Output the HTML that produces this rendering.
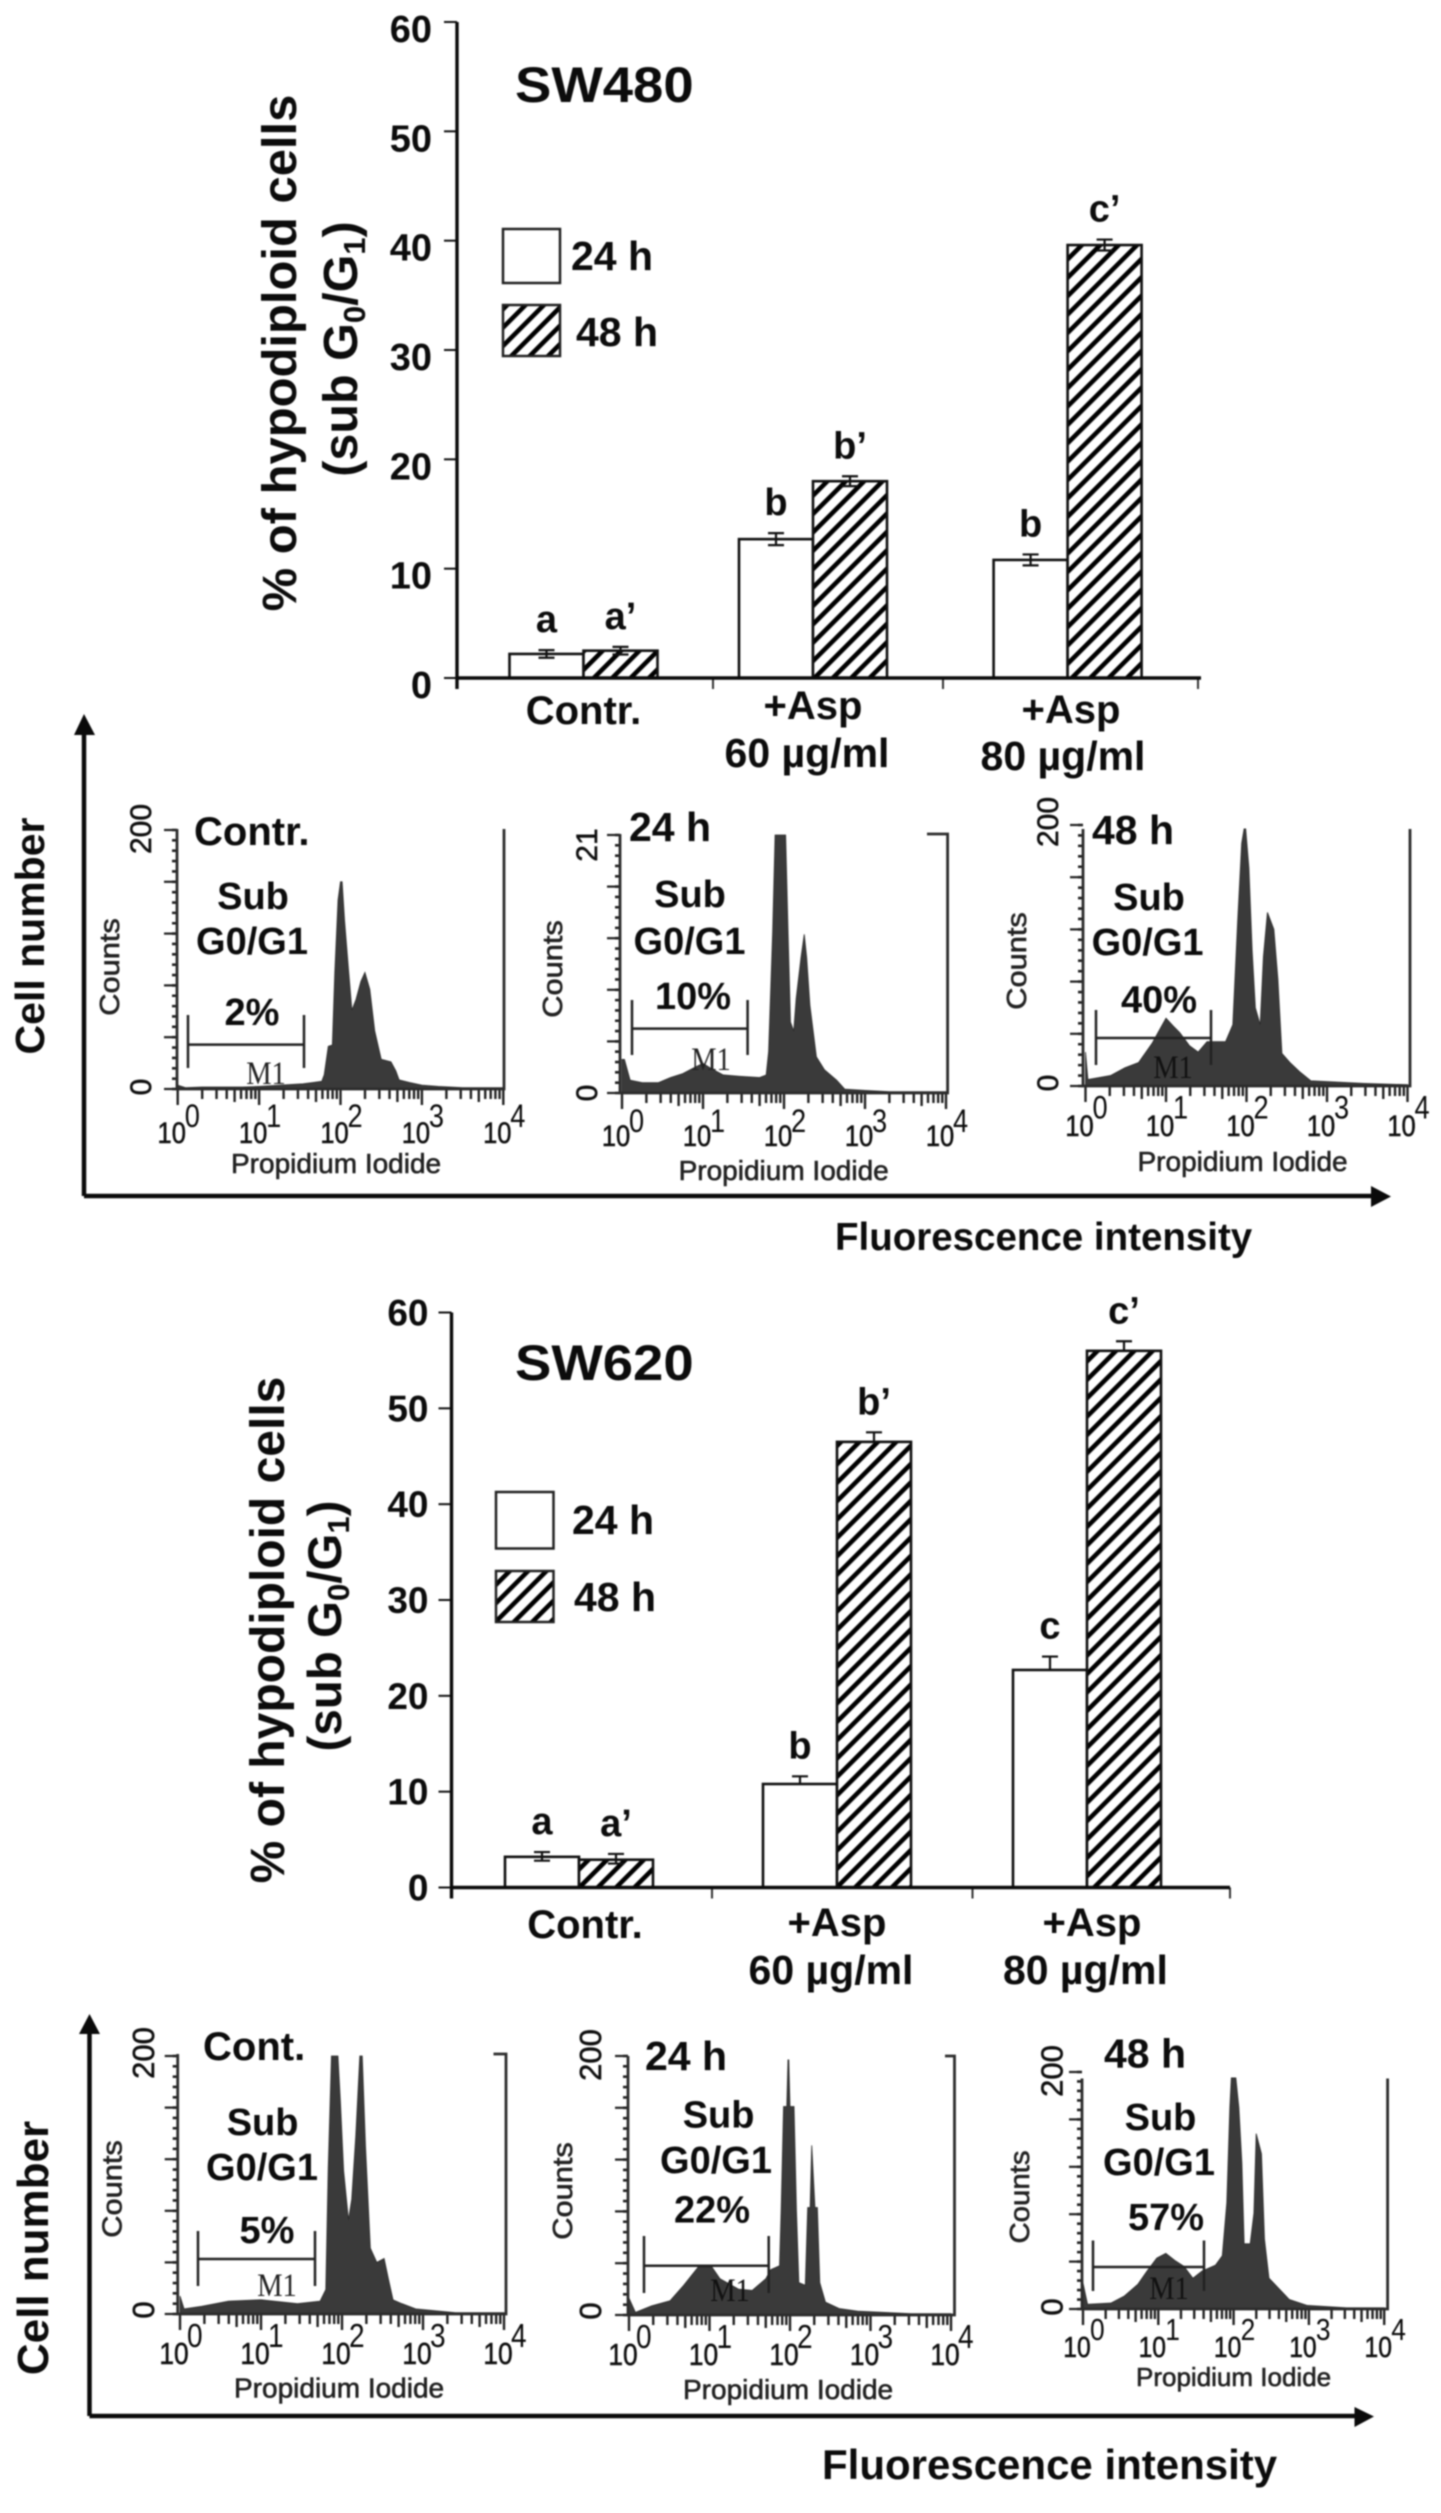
<!DOCTYPE html>
<html lang="en">
<head>
<meta charset="utf-8">
<title>Hypodiploid cells in SW480 and SW620</title>
<style>
html,body{margin:0;padding:0;background:#fff;width:1441px;height:2513px;overflow:hidden}
svg{display:block;filter:blur(0.8px)}
text{font-family:"Liberation Sans",Arial,sans-serif;fill:#0c0c0c}
.b{font-weight:bold}
.s38{font-size:38px;font-weight:bold}
.s40{font-size:40px;font-weight:bold}
.s41{font-size:41px;font-weight:bold}
.m{text-anchor:middle}
.prop{font-size:28px;fill:#222;stroke:#222;stroke-width:.6px}
.cnt{font-size:28px;fill:#222;stroke:#222;stroke-width:.6px}
.num{stroke:#222;stroke-width:.6px}
.serif{font-family:"Liberation Serif",serif;font-size:30px;fill:#222}
</style>
</head>
<body>
<svg xmlns="http://www.w3.org/2000/svg" width="1441" height="2513" viewBox="0 0 1441 2513">
<defs>
<pattern id="hatch" width="13" height="13" patternUnits="userSpaceOnUse" patternTransform="rotate(45)">
<rect width="13" height="13" fill="#fff"/>
<rect width="4.6" height="13" fill="#000"/>
</pattern>
</defs>
<rect width="1441" height="2513" fill="#fff"/>

<g id="flow-layer"></g>
<g id="bar-layer-a"></g>
<g id="bar-layer-b"></g>

<!-- SW480 static text -->
<text class="b" font-size="50" transform="translate(515,102) scale(1.09,1)">SW480</text>
<text class="b m" font-size="48" transform="translate(296,353) rotate(-90) scale(1.02,1)">% of hypodiploid cells</text>
<text class="b m" font-size="48.500" transform="translate(357,349) rotate(-90)">(sub G<tspan font-size="31" dy="8">0</tspan><tspan dy="-8">/G</tspan><tspan font-size="31" dy="8">1</tspan><tspan dy="-8">)</tspan></text>
<rect x="503" y="229" width="57" height="54" fill="#fff" stroke="#222" stroke-width="2.5"/>
<rect x="503" y="305" width="57" height="51" fill="url(#hatch)" stroke="#222" stroke-width="2.5"/>
<text class="s41" x="571" y="270">24 h</text>
<text class="s41" x="576" y="346">48 h</text>
<text class="s40 m" x="583.5" y="724">Contr.</text>
<text class="s40 m" x="813" y="719">+Asp</text>
<text class="s41 m" x="807" y="767">60 µg/ml</text>
<text class="s40 m" x="1071" y="723">+Asp</text>
<text class="s41 m" x="1063" y="770">80 µg/ml</text>

<!-- SW480 flow panels text -->
<text class="b" font-size="41" transform="translate(44,936) rotate(-90)" text-anchor="middle">Cell number</text>
<text class="b" font-size="38.5" x="835" y="1250">Fluorescence intensity</text>

<text class="s40" x="194" y="845">Contr.</text>
<text class="s38 m" x="253" y="909">Sub</text>
<text class="s38 m" x="252" y="954">G0/G1</text>
<text class="s38 m" x="252" y="1025">2%</text>
<path d="M188 1015V1068M304 1015V1068M188 1044.6H304" stroke="#222" stroke-width="2.5" fill="none"/>
<text class="serif m" transform="translate(266,1084) scale(.95,1.1)">M1</text>
<text class="prop" x="231" y="1173">Propidium Iodide</text>
<text class="cnt m" transform="translate(119,967) rotate(-90) scale(1.1,1)">Counts</text>
<text class="m num" font-size="30" fill="#222" transform="translate(151,829) rotate(-90)">200</text>
<text class="m num" font-size="30" fill="#222" transform="translate(151,1087) rotate(-90)">0</text>

<text class="s41" x="629" y="841">24 h</text>
<text class="s38 m" x="690" y="907">Sub</text>
<text class="s38 m" x="689.5" y="954">G0/G1</text>
<text class="s38 m" x="693" y="1009">10%</text>
<path d="M632 1000V1055M747.600 1000V1055M632 1028.600H747.600" stroke="#222" stroke-width="2.5" fill="none"/>
<text class="serif m" transform="translate(711,1070) scale(.95,1.1)">M1</text>
<text class="prop" x="678.600" y="1180">Propidium Iodide</text>
<text class="cnt m" transform="translate(562,969) rotate(-90) scale(1.1,1)">Counts</text>
<text class="m num" font-size="30" fill="#222" transform="translate(597,845) rotate(-90)">21</text>
<text class="m num" font-size="30" fill="#222" transform="translate(597,1093) rotate(-90)">0</text>

<text class="s41" x="1092" y="844">48 h</text>
<text class="s38 m" x="1149" y="910">Sub</text>
<text class="s38 m" x="1147.600" y="955">G0/G1</text>
<text class="s38 m" x="1159" y="1012.500">40%</text>
<path d="M1096 1010V1065M1211 1010V1065M1096 1038H1211" stroke="#222" stroke-width="2.5" fill="none"/>
<text class="serif m" transform="translate(1173,1078) scale(.95,1.1)" style="fill:#111">M1</text>
<text class="prop" x="1137.500" y="1171">Propidium Iodide</text>
<text class="cnt m" transform="translate(1026,961) rotate(-90) scale(1.1,1)">Counts</text>
<text class="m num" font-size="30" fill="#222" transform="translate(1058,822) rotate(-90)">200</text>
<text class="m num" font-size="30" fill="#222" transform="translate(1058,1083) rotate(-90)">0</text>

<!-- big arrows top -->
<path d="M84 1196V730M84 1196H1376" stroke="#0a0a0a" stroke-width="4.500" fill="none"/>
<path d="M84 714L95 735H74Z" fill="#0a0a0a"/>
<path d="M1391 1196.500L1371 1186V1207Z" fill="#0a0a0a"/>

<!-- SW620 static text -->
<text class="b" font-size="50" transform="translate(515,1380) scale(1.09,1)">SW620</text>
<text class="b m" font-size="48" transform="translate(284,1630) rotate(-90)">% of hypodiploid cells</text>
<text class="b m" font-size="47.500" transform="translate(341,1626) rotate(-90)">(sub G<tspan font-size="31" dy="8">0</tspan><tspan dy="-8">/G</tspan><tspan font-size="31" dy="8">1</tspan><tspan dy="-8">)</tspan></text>
<rect x="496" y="1492" width="57.500" height="56.500" fill="#fff" stroke="#222" stroke-width="2.500"/>
<rect x="496" y="1571" width="57.500" height="51" fill="url(#hatch)" stroke="#222" stroke-width="2.500"/>
<text class="s41" x="572" y="1534">24 h</text>
<text class="s41" x="574" y="1611">48 h</text>
<text class="s40 m" x="585" y="1938">Contr.</text>
<text class="s40 m" x="837" y="1936">+Asp</text>
<text class="s41 m" x="831" y="1984">60 µg/ml</text>
<text class="s40 m" x="1092" y="1936">+Asp</text>
<text class="s41 m" x="1085.400" y="1984">80 µg/ml</text>

<!-- SW620 flow panels text -->
<text class="b m" font-size="44" transform="translate(48,2248) rotate(-90)">Cell number</text>
<text class="b" font-size="42" x="822" y="2479">Fluorescence intensity</text>

<text class="s40" x="203" y="2060">Cont.</text>
<text class="s38 m" x="262.600" y="2135">Sub</text>
<text class="s38 m" x="262" y="2180">G0/G1</text>
<text class="s38 m" x="267" y="2243">5%</text>
<path d="M198 2231V2286M315 2231V2286M198 2259H315" stroke="#222" stroke-width="2.5" fill="none"/>
<text class="serif m" transform="translate(277,2296) scale(.95,1.1)">M1</text>
<text class="prop" x="234" y="2397.600">Propidium Iodide</text>
<text class="cnt m" transform="translate(121.700,2189) rotate(-90) scale(1.1,1)">Counts</text>
<text class="m num" font-size="31" fill="#222" transform="translate(154,2053) rotate(-90)">200</text>
<text class="m num" font-size="31" fill="#222" transform="translate(154,2310) rotate(-90)">0</text>

<text class="s41" x="645" y="2070">24 h</text>
<text class="s38 m" x="718.600" y="2127.600">Sub</text>
<text class="s38 m" x="716" y="2173">G0/G1</text>
<text class="s38 m" x="712" y="2222.500">22%</text>
<path d="M644 2236V2293M768.700 2236V2293M644 2265.700H768.700" stroke="#222" stroke-width="2.5" fill="none"/>
<text class="serif m" transform="translate(730,2301) scale(.95,1.1)" style="fill:#111">M1</text>
<text class="prop" x="683" y="2399">Propidium Iodide</text>
<text class="cnt m" transform="translate(572,2191) rotate(-90) scale(1.1,1)">Counts</text>
<text class="m num" font-size="31" fill="#222" transform="translate(601,2055) rotate(-90)">200</text>
<text class="m num" font-size="31" fill="#222" transform="translate(601,2311) rotate(-90)">0</text>

<text class="s41" x="1104" y="2067.700">48 h</text>
<text class="s38 m" x="1160.500" y="2130">Sub</text>
<text class="s38 m" x="1159" y="2175">G0/G1</text>
<text class="s38 m" x="1166" y="2230">57%</text>
<path d="M1093 2240.500V2291M1204 2240.500V2291M1093 2267H1204" stroke="#222" stroke-width="2.5" fill="none"/>
<text class="serif m" transform="translate(1169,2299) scale(.95,1.1)" style="fill:#111">M1</text>
<text class="prop" style="font-size:26px" x="1136" y="2386">Propidium Iodide</text>
<text class="cnt m" transform="translate(1029,2197) rotate(-90) scale(1.05,1)">Counts</text>
<text class="m num" font-size="31" fill="#222" transform="translate(1062.500,2071) rotate(-90)">200</text>
<text class="m num" font-size="31" fill="#222" transform="translate(1062.500,2307) rotate(-90)">0</text>

<!-- big arrows bottom -->
<path d="M89.500 2416V2030M89.500 2416H1358" stroke="#0a0a0a" stroke-width="4.500" fill="none"/>
<path d="M89.500 2014L100 2034H79Z" fill="#0a0a0a"/>
<path d="M1374 2416.500L1354.500 2407V2427Z" fill="#0a0a0a"/>

<script>
// ----- SW480 bar chart values -----
var sw480Values24 = [2.2, 12.7, 10.8];
var sw480Values48 = [2.5, 18.0, 39.6];
var sw480ErrUp24 = [0.35, 0.55, 0.5];
var sw480ErrUp48 = [0.35, 0.45, 0.5];
var sw480ErrDown24 = [0.35, 0.55, 0.5];
var sw480ErrDown48 = [0.35, 0.45, 0.5];
var sw480Letters24 = ["a", "b", "b"];
var sw480Letters48 = ["a\u2019", "b\u2019", "c\u2019"];
var sw480TickLabels = [0, 10, 20, 30, 40, 50, 60];

// ----- SW620 bar chart values -----
var sw620Values24 = [3.2, 10.8, 22.7];
var sw620Values48 = [2.9, 46.5, 56.0];
var sw620ErrUp24 = [0.5, 0.8, 1.4];
var sw620ErrUp48 = [0.6, 1.0, 1.0];
var sw620ErrDown24 = [0.4, 0, 0];
var sw620ErrDown48 = [0.4, 0, 0];
var sw620Letters24 = ["a", "b", "c"];
var sw620Letters48 = ["a\u2019", "b\u2019", "c\u2019"];
var sw620TickLabels = [0, 10, 20, 30, 40, 50, 60];

// ----- Flow cytometry histograms: log10 intensity and counts at each outline point -----
var flowDecades = ["0", "1", "2", "3", "4"];
var flowMajorCounts = [0, 40, 80, 120, 160, 200];

var sw480ControlLogs = [0,.1,.3,.8,1,1.54,1.66,1.77,1.8,1.85,1.9,1.93,1.97,2,2.02,2.05,2.1,2.14,2.19,2.25,2.3,2.36,2.42,2.5,2.62,2.68,2.72,2.85,3,3.2,3.5,4];
var sw480ControlCounts = [3,1,1.5,1.5,2,4,5,6,11,33,34,90,146,160,160,130,91,61,69,83,90,77,45,23,21,14,7,5,3,2,1,1];

var sw480H24Logs = [0,.03,.1,.25,.45,.6,.75,.9,1,1.1,1.25,1.45,1.7,1.78,1.81,1.86,1.89,2.02,2.05,2.08,2.12,2.15,2.21,2.25,2.28,2.32,2.4,2.5,2.65,2.75,3,3.3,4];
var sw480H24Counts = [26,26,10,8,8,12,15,20,23,19,14,13,12,14,32,125,200,200,125,55,48,73,105,123,105,68,28,18,10,3,2,1,1];

var sw480H48Logs = [0,.03,.31,.49,.66,.83,.91,1,1.09,1.17,1.29,1.4,1.51,1.74,1.83,1.89,1.94,1.97,1.99,2.03,2.07,2.11,2.17,2.21,2.26,2.34,2.39,2.44,2.54,2.66,2.8,3.46,4];
var sw480H48Counts = [26,5,8,14,18,33,42,52,46,41,31,26,34,34,47,126,186,197,197,167,104,60,47,99,133,120,82,25,18,11,4,2,1];

var sw620ControlLogs = [0,.05,.27,.6,1,1.45,1.73,1.8,1.83,1.87,1.95,1.98,2.02,2.08,2.12,2.17,2.22,2.25,2.29,2.35,2.43,2.52,2.57,2.63,2.74,2.91,3.4,4];
var sw620ControlCounts = [14,4,6,10,11,8,10,19,113,200,200,165,111,73,89,138,200,200,130,51,40,43,28,11,8,4,1,1];

var sw620H24Logs = [0,.08,.28,.51,.68,.86,1.03,1.13,1.36,1.53,1.7,1.76,1.87,1.89,1.92,1.96,1.975,1.985,2.0,2.05,2.08,2.11,2.19,2.22,2.25,2.27,2.31,2.34,2.37,2.44,2.61,2.84,3.5,4];
var sw620H24Counts = [13,2,7,11,23,37,37,28,20,19,28,35,38,81,161,161,197,197,161,161,81,25,23,83,83,131,83,83,25,10,5,3,1,1];

var sw620H48Logs = [0,.06,.37,.55,.73,.85,.98,1.1,1.22,1.34,1.46,1.58,1.76,1.85,1.91,1.95,1.97,2.03,2.07,2.11,2.14,2.22,2.27,2.3,2.37,2.41,2.47,2.59,2.74,2.98,3.5,4];
var sw620H48Counts = [22,4,5,11,21,32,43,47,41,36,26,32,37,45,90,170,195,195,170,123,55,55,81,148,131,59,26,18,8,3,1,1];

var NS = "http://www.w3.org/2000/svg";

function mk(tag, parent, attrs) {
  var el = document.createElementNS(NS, tag);
  for (var k in attrs) { el.setAttribute(k, attrs[k]); }
  parent.appendChild(el);
  return el;
}

function drawBarChart(layer, L, v24, v48, up24, up48, dn24, dn48, let24, let48, tickLabels) {
  var yS = function (v) { return L.y0 - v * (L.y0 - L.yTop) / 60; };

  tickLabels.forEach(function (t) {
    var tick = mk("line", layer, { x1: L.axisX - 13, x2: L.axisX, y1: yS(t), y2: yS(t), stroke: "#111", "stroke-width": 2 });
    
    
    var lab = mk("text", layer, { x: L.labelRight, y: yS(t) + L.labelDy, "text-anchor": "end", "font-size": L.labelSize, "font-weight": "bold" });
    lab.textContent = String(t);
    
    
  });

  L.xTicks.forEach(function (x) {
    var tick = mk("line", layer, { x1: x, x2: x, y1: L.y0, y2: L.y0 + 11, stroke: "#333", "stroke-width": 2 });
    
    
  });

  function bar(x, v, fill, up, dn, letter, seriesName) {
    var top = yS(v);
    var r = mk("rect", layer, { x: x, y: top, width: L.barW, height: L.y0 - top, fill: fill, stroke: "#111", "stroke-width": 2.6 });
    
    
    var cx = x + L.barW / 2;
    var d = "M" + cx + " " + yS(v + up) + "V" + yS(v - dn) +
      "M" + (cx - 8) + " " + yS(v + up) + "H" + (cx + 8);
    if (dn > 0) { d += "M" + (cx - 8) + " " + yS(v - dn) + "H" + (cx + 8); }
    var e = mk("path", layer, { d: d, stroke: "#111", "stroke-width": 2.2, fill: "none" });
    
    
    var t = mk("text", layer, { x: cx, y: yS(v + up) - 18, "text-anchor": "middle", "font-size": 38, "font-weight": "bold" });
    t.textContent = letter;
    
    
  }

  L.groupMid.forEach(function (mid, i) {
    bar(mid - L.barW, v24[i], "#fff", up24[i], dn24[i], let24[i], "bar-24h");
    bar(mid, v48[i], "url(#hatch)", up48[i], dn48[i], let48[i], "bar-48h");
  });

  var axes = mk("path", layer, {
    d: "M" + L.axisX + " " + yS(60) + "V" + (L.y0 + 11) + "M" + L.axisX + " " + L.y0 + "H" + L.axisEnd,
    stroke: "#0a0a0a", "stroke-width": 3.4, fill: "none"
  });
  
  
}

drawBarChart(document.getElementById("bar-layer-a"),
  { y0: 678, yTop: 22, axisX: 457, axisEnd: 1201, xTicks: [457, 713, 943, 1198], groupMid: [583.5, 813, 1067.6], barW: 74, labelRight: 432, labelDy: 20, labelSize: 38 },
  sw480Values24, sw480Values48, sw480ErrUp24, sw480ErrUp48, sw480ErrDown24, sw480ErrDown48, sw480Letters24, sw480Letters48, sw480TickLabels);

drawBarChart(document.getElementById("bar-layer-b"),
  { y0: 1887.5, yTop: 1312.5, axisX: 451.5, axisEnd: 1230, xTicks: [451.5, 712, 972.5, 1230], groupMid: [579, 837, 1087], barW: 74, labelRight: 428.5, labelDy: 13, labelSize: 37 },
  sw620Values24, sw620Values48, sw620ErrUp24, sw620ErrUp48, sw620ErrDown24, sw620ErrDown48, sw620Letters24, sw620Letters48, sw620TickLabels);

function drawFlowPanel(layer, P, logs, counts) {
  var xS = function (l) { return P.x0 + l * P.dec; };
  var yS = function (c) { return P.base - c * P.k; };

  var d = "M" + xS(logs[0]) + " " + yS(0);
  for (var i = 0; i < counts.length; i++) {
    d += "L" + xS(logs[i]) + " " + yS(counts[i]);
  }
  d += "L" + xS(logs[logs.length - 1]) + " " + yS(0) + "Z";
  var hist = mk("path", layer, { d: d, fill: "#3a3a3a", stroke: "#2a2a2a", "stroke-width": 0.8 });
  
  

  var minor = "";
  var major = "";
  flowDecades.forEach(function (dec, idx) {
    major += "M" + xS(idx) + " " + P.base + "v16";
    if (idx < 4) {
      for (var m = 2; m < 10; m++) {
        var lx = xS(idx + Math.log(m) / Math.LN10);
        minor += "M" + lx + " " + P.base + "v" + (m === 5 ? 13 : 10);
      }
    }
    var ten = mk("text", layer, { "class": "num", "text-anchor": "middle", "font-size": P.fs, fill: "#1c1c1c", transform: "translate(" + (xS(idx) - 6) + "," + P.tenBase + ") scale(.85,1)" });
    ten.textContent = "10";
    
    
    var exp = mk("text", layer, { "text-anchor": "start", "font-size": P.fs + 2, fill: "#1c1c1c", transform: "translate(" + (xS(idx) + 7) + "," + P.expBase + ") scale(.85,1)" });
    exp.textContent = dec;
    
    
  });
  var xt = mk("path", layer, { d: major + minor, stroke: "#222", "stroke-width": 2.4, fill: "none" });
  
  

  var yMinor = "";
  for (var c = 0; c <= 200; c += 8) {
    yMinor += "M" + P.axisX + " " + yS(c) + "h-5";
  }
  var ym = mk("path", layer, { d: yMinor, stroke: "#222", "stroke-width": 2.6, fill: "none" });
  
  
  flowMajorCounts.forEach(function (c2) {
    var t = mk("line", layer, { x1: P.axisX - 13, x2: P.axisX, y1: yS(c2), y2: yS(c2), stroke: "#222", "stroke-width": 2.2 });
    
    
  });

  var frame = mk("path", layer, {
    d: "M" + P.axisX + " " + P.top + "V" + P.base + "H" + P.right + "V" + P.top + (P.topBar ? "H" + P.topBar : ""),
    stroke: "#2c2c2c", "stroke-width": 2.8, fill: "none"
  });
  
  
}

var flowLayer = document.getElementById("flow-layer");
drawFlowPanel(flowLayer, { axisX: 177, right: 504, top: 829, base: 1089, x0: 177.7, dec: 81.4, k: 1.295, tenBase: 1143, expBase: 1127, fs: 30 }, sw480ControlLogs, sw480ControlCounts);
drawFlowPanel(flowLayer, { axisX: 620, right: 947.6, top: 834, base: 1093, x0: 622, dec: 81, k: 1.29, tenBase: 1146, expBase: 1132, fs: 30, topBar: 927 }, sw480H24Logs, sw480H24Counts);
drawFlowPanel(flowLayer, { axisX: 1083, right: 1410, top: 829, base: 1086, x0: 1085.5, dec: 80.5, k: 1.305, tenBase: 1136, expBase: 1118.5, fs: 30 }, sw480H48Logs, sw480H48Counts);
drawFlowPanel(flowLayer, { axisX: 177.7, right: 506, top: 2054, base: 2314, x0: 180, dec: 81, k: 1.29, tenBase: 2364, expBase: 2347, fs: 31, topBar: 493.5 }, sw620ControlLogs, sw620ControlCounts);
drawFlowPanel(flowLayer, { axisX: 628, right: 954.5, top: 2056, base: 2315, x0: 629, dec: 80.5, k: 1.295, tenBase: 2365, expBase: 2348, fs: 31, topBar: 945 }, sw620H24Logs, sw620H24Counts);
drawFlowPanel(flowLayer, { axisX: 1082, right: 1387.6, top: 2078.5, base: 2309, x0: 1083, dec: 75.3, k: 1.185, tenBase: 2357, expBase: 2340, fs: 29 }, sw620H48Logs, sw620H48Counts);
</script>
</svg>
</body>
</html>
